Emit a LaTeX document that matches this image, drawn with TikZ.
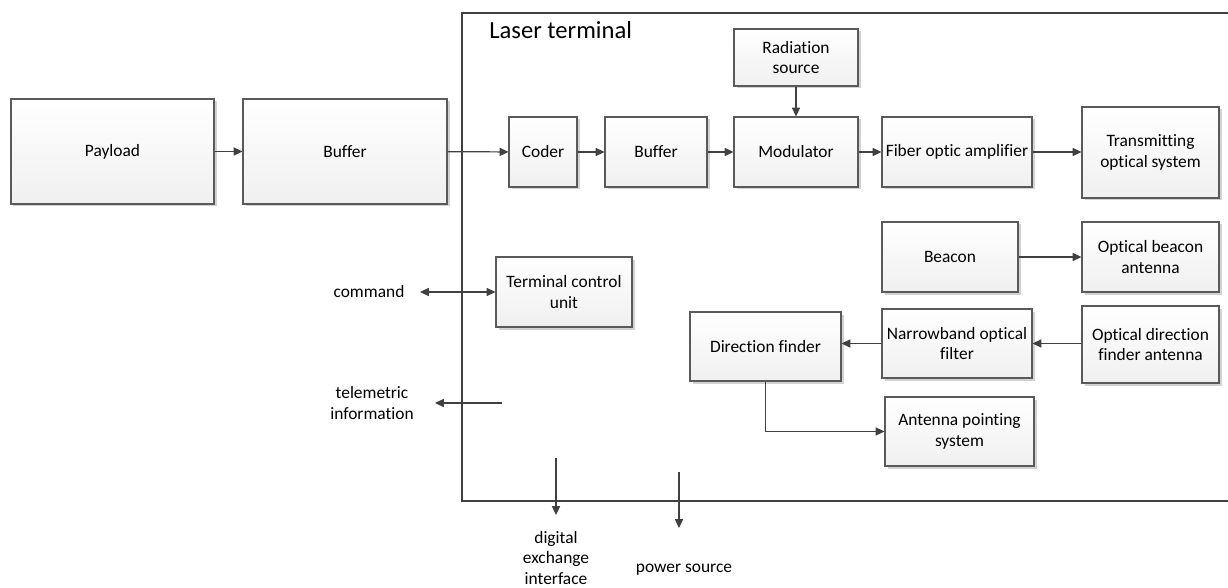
\documentclass[tikz,border=0pt]{standalone}
\usepackage{fontspec}
\setmainfont[Ligatures=NoCommon]{Carlito}
\usepackage{tikz}
\usetikzlibrary{arrows.meta,shadows}

\definecolor{linegray}{HTML}{404040}
\definecolor{boxgray}{HTML}{5A5A5A}

\begin{document}
\begin{tikzpicture}[x=0.02cm,y=-0.02cm,
        font=\fontsize{9.9}{11.8}\selectfont,
        block/.style={shape=rectangle,draw=boxgray,line width=0.6pt,top color=white,bottom color=gray!12,
            align=center,inner sep=1pt,
            drop shadow={shadow xshift=0.05cm,shadow yshift=-0.05cm,fill=gray!35,opacity=1}},
        link/.style={draw=linegray,line width=0.7pt,-{Triangle[length=5pt,width=4.6pt]}},
        label/.style={align=center,inner sep=0pt}]
        \useasboundingbox (0,0) rectangle (1228,588);
        % laser terminal frame
        \draw[linegray,line width=0.6pt] (1228,13) -- (462,13) -- (462,501) -- (1228,501);
        \node[label,anchor=west,font=\fontsize{14}{16}\selectfont] (title) at (489,30) {Laser terminal};

        \node[block,minimum width=203*0.02cm,minimum height=105*0.02cm] (payload) at (112.5,151.5) {Payload};
        \node[block,minimum width=204*0.02cm,minimum height=105*0.02cm] (buffer1) at (345,151.5) {Buffer};
        \node[block,minimum width=68*0.02cm,minimum height=70*0.02cm] (coder) at (543,152) {Coder};
        \node[block,minimum width=102*0.02cm,minimum height=70*0.02cm] (buffer2) at (656,152) {Buffer};
        \node[block,minimum width=124*0.02cm,minimum height=70*0.02cm] (modulator) at (796,152) {Modulator};
        \node[block,minimum width=124*0.02cm,minimum height=57*0.02cm] (radiation) at (796,57.5) {Radiation\\source};
        \node[block,minimum width=150*0.02cm,minimum height=70*0.02cm] (fiber) at (957,152) {Fiber optic amplifier};
        \node[block,minimum width=137*0.02cm,minimum height=91*0.02cm] (transmit) at (1150.5,152.5) {Transmitting\\optical system};
        \node[block,minimum width=136*0.02cm,minimum height=70*0.02cm] (beacon) at (950,257) {Beacon};
        \node[block,minimum width=137*0.02cm,minimum height=70*0.02cm] (beaconant) at (1150.5,257) {Optical beacon\\antenna};
        \node[block,minimum width=150*0.02cm,minimum height=69*0.02cm] (narrow) at (957,343.5) {Narrowband optical\\filter};
        \node[block,minimum width=137*0.02cm,minimum height=77*0.02cm] (dirant) at (1150.5,344.5) {Optical direction\\finder antenna};
        \node[block,minimum width=151*0.02cm,minimum height=69*0.02cm] (finder) at (765.5,346.5) {Direction finder};
        \node[block,minimum width=149*0.02cm,minimum height=69*0.02cm] (pointing) at (959.5,431.5) {Antenna pointing\\system};
        \node[block,minimum width=136*0.02cm,minimum height=70*0.02cm] (control) at (564,292) {Terminal control\\unit};

        % outside labels
        \node[label] (command) at (369,292) {command};
        \node[label] (telemetry) at (372,403) {telemetric\\information};
        \node[label] (digital) at (556,558) {digital\\exchange\\interface};
        \node[label] (power) at (684,570) {power source};
        \coordinate (cmdend) at (420,292);
        \coordinate (telstart) at (502,403);
        \coordinate (telend) at (435,403);
        \coordinate (digtop) at (556,458);
        \coordinate (digend) at (556,515);
        \coordinate (powtop) at (679,472);
        \coordinate (powend) at (679,528);

        \path [link] (payload) -- (buffer1);
        \path [link] (buffer1) -- (coder);
        \path [link] (coder) -- (buffer2);
        \path [link] (buffer2) -- (modulator);
        \path [link] (modulator) -- (fiber);
        \path [link] (fiber) -- (transmit.west |- fiber);
        \path [link] (radiation) -- (modulator);
        \path [link] (beacon) -- (beaconant);
        \path [link] (dirant.west |- narrow) -- (narrow);
        \path [link] (narrow.west) -- (finder.east |- narrow.west);
        \path [link] (finder) |- (pointing);
        \path [link,{Triangle[length=5pt,width=4.6pt]}-{Triangle[length=5pt,width=4.6pt]}] (cmdend) -- (control);
        \path [link] (telstart) -- (telend);
        \path [link] (digtop) -- (digend);
        \path [link] (powtop) -- (powend);
    \end{tikzpicture}
\end{document}
